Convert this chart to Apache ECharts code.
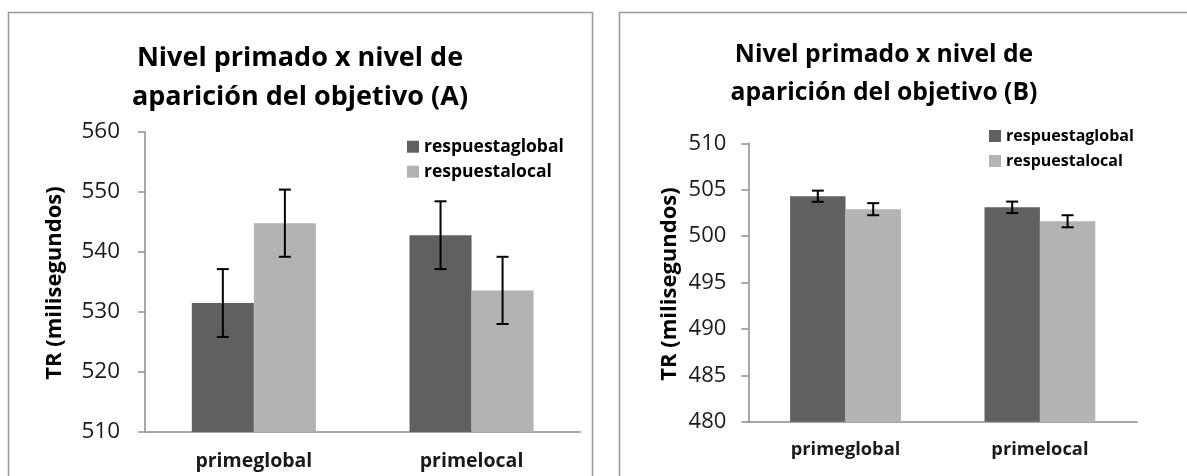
<!DOCTYPE html>
<html>
<head>
<meta charset="utf-8">
<script src="https://cdn.jsdelivr.net/npm/echarts@6/dist/echarts.min.js"></script>
<style>
html,body{margin:0;padding:0;background:#fff;}
#c{width:1187px;height:476px;}
</style>
</head>
<body>
<div id="c"></div>
<script>
// ---- data ----
const categories = ['primeglobal', 'primelocal'];
const seriesNames = ['respuestaglobal', 'respuestalocal'];
// Chart A
const aGlobal = [531.5, 542.8];
const aLocal = [544.8, 533.6];
const aGlobalErr = [5.65, 5.65];
const aLocalErr = [5.6, 5.6];
const aTicks = [510, 520, 530, 540, 550, 560];
// Chart B
const bGlobal = [504.3, 503.1];
const bLocal = [502.9, 501.6];
const bGlobalErr = [0.6, 0.62];
const bLocalErr = [0.65, 0.65];
const bTicks = [480, 485, 490, 495, 500, 505, 510];

const titleA = ['Nivel primado x nivel de', 'aparición del objetivo (A)'];
const titleB = ['Nivel primado x nivel de', 'aparición del objetivo (B)'];
const yName = 'TR (milisegundos)';

const DARK = '#606060', LIGHT = '#b3b3b3';
const FONT = '"Open Sans", "Noto Sans", sans-serif';
const BAR_FRAC = 0.285;

const chart = echarts.init(document.getElementById('c'), null, {renderer: 'canvas'});

function errSeries(name, gridIdx, vals, errs, side) {
  return {
    type: 'custom', name: name + '_err', xAxisIndex: gridIdx, yAxisIndex: gridIdx,
    silent: true, z: 10,
    data: vals.map((v, i) => [i, v, errs[i]]),
    renderItem: function (params, api) {
      const idx = api.value(0), v = api.value(1), e = api.value(2);
      const band = api.size([1, 0])[0];
      const off = side * band * BAR_FRAC / 2;
      const top = api.coord([idx, v + e]);
      const bot = api.coord([idx, v - e]);
      const x = top[0] + off;
      const cw = 6;
      const st = {stroke: '#000', lineWidth: 2};
      return {type: 'group', children: [
        {type: 'line', shape: {x1: x, y1: top[1], x2: x, y2: bot[1]}, style: st},
        {type: 'line', shape: {x1: x - cw, y1: top[1], x2: x + cw, y2: top[1]}, style: st},
        {type: 'line', shape: {x1: x - cw, y1: bot[1], x2: x + cw, y2: bot[1]}, style: st}
      ]};
    }
  };
}

function yAxis(gridIdx, ticks, fs, margin) {
  return {
    type: 'value', gridIndex: gridIdx,
    min: ticks[0], max: ticks[ticks.length - 1], interval: ticks[1] - ticks[0],
    axisLine: {show: true, lineStyle: {color: '#8c8c8c', width: 1.5}},
    axisTick: {show: true, length: 7, lineStyle: {color: '#8c8c8c', width: 1.5}},
    splitLine: {show: false},
    axisLabel: {color: '#1a1a1a', fontSize: fs, fontFamily: FONT, margin: margin}
  };
}
function xAxis(gridIdx, fs) {
  return {
    type: 'category', gridIndex: gridIdx, data: categories,
    axisLine: {show: true, lineStyle: {color: '#8c8c8c', width: 1.5}},
    axisTick: {show: false},
    axisLabel: {color: '#1a1a1a', fontSize: fs, fontWeight: 'bold', fontFamily: FONT, margin: 19}
  };
}
function barSeries(name, gridIdx, vals, color) {
  return {
    type: 'bar', name: name, xAxisIndex: gridIdx, yAxisIndex: gridIdx,
    data: vals, barWidth: (BAR_FRAC * 100) + '%', barGap: '0%',
    itemStyle: {color: color}, animation: false
  };
}
function txt(text, x, y, size, rot) {
  return {type: 'text', x: x, y: y, rotation: rot || 0,
    style: {text: text, fill: '#000', font: 'bold ' + size + 'px ' + FONT,
      textAlign: 'center', textVerticalAlign: 'middle'}};
}
function legend(left, top, fs) {
  return {data: seriesNames, orient: 'vertical', left: left, top: top, padding: 0,
    itemWidth: 12, itemHeight: 12, itemGap: 7, icon: 'rect',
    textStyle: {fontSize: fs, fontWeight: 'bold', fontFamily: FONT, color: '#000', lineHeight: 18}};
}

const option = {
  animation: false,
  backgroundColor: '#fff',
  grid: [
    {left: 145, top: 132, width: 435.4, height: 300},
    {left: 748.3, top: 143.3, width: 388.8, height: 278.4}
  ],
  xAxis: [xAxis(0, 19.5), xAxis(1, 18.3)],
  yAxis: [yAxis(0, aTicks, 22.5, 25), yAxis(1, bTicks, 22, 22)],
  legend: [legend(407, 137.7, 17.5), legend(989, 127, 16)],
  series: [
    barSeries(seriesNames[0], 0, aGlobal, DARK),
    barSeries(seriesNames[1], 0, aLocal, LIGHT),
    barSeries(seriesNames[0], 1, bGlobal, DARK),
    barSeries(seriesNames[1], 1, bLocal, LIGHT),
    errSeries('ag', 0, aGlobal, aGlobalErr, -1),
    errSeries('al', 0, aLocal, aLocalErr, 1),
    errSeries('bg', 1, bGlobal, bGlobalErr, -1),
    errSeries('bl', 1, bLocal, bLocalErr, 1)
  ],
  graphic: [
    {type: 'rect', shape: {x: 8.5, y: 12.5, width: 584, height: 520}, style: {fill: 'none', stroke: '#999', lineWidth: 1.5}, silent: true},
    {type: 'rect', shape: {x: 619.5, y: 12.5, width: 620, height: 520}, style: {fill: 'none', stroke: '#999', lineWidth: 1.5}, silent: true},
    txt(titleA[0], 300, 58, 27),
    txt(titleA[1], 300, 97, 27),
    txt(titleB[0], 884, 55, 24.7),
    txt(titleB[1], 884, 93, 24.7),
    txt(yName, 55, 283, 22, Math.PI / 2),
    txt(yName, 670, 284, 22, Math.PI / 2)
  ]
};
chart.setOption(option);
</script>
</body>
</html>
